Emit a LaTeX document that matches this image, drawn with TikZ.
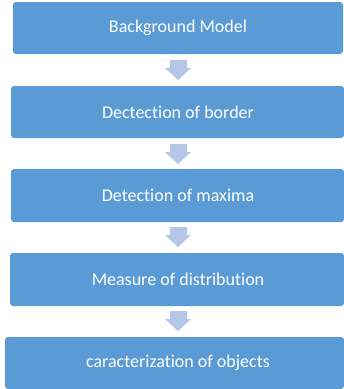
\documentclass[tikz,border=0pt]{standalone}
\usepackage{fontspec}
\setmainfont{Carlito}[Ligatures={NoCommon,NoRare,NoContextual}]
\definecolor{stepblue}{HTML}{5B9BD5}
\definecolor{arrowblue}{HTML}{B4C7E7}
\begin{document}
\begin{tikzpicture}[x=1pt,y=-1pt,
  stepbox/.style={fill=stepblue, draw=none, rounded corners=3pt},
  steplabel/.style={text=white, inner sep=0pt, font=\fontsize{18}{21}\selectfont},
  flowarrow/.style={fill=arrowblue, draw=none}]
\useasboundingbox (0,0) rectangle (344,389);
% process boxes
\path[stepbox] (13,2) rectangle (343,54);
\node[steplabel] (b1) at (178,28) {Background Model};
\path[stepbox] (11,86) rectangle (344,138);
\node[steplabel] (b2) at (178,112) {Dectection of border};
\path[stepbox] (11,169) rectangle (344,222);
\node[steplabel] (b3) at (178,195.5) {Detection of maxima};
\path[stepbox] (10,253) rectangle (344,306);
\node[steplabel] (b4) at (178,279.5) {Measure of distribution};
\path[stepbox] (5,337) rectangle (344,389);
\node[steplabel] (b5) at (178,363) {caracterization of objects};
% block arrows between the boxes
\foreach \t in {60,144,227,311}{
  \path[flowarrow] (170,\t) -- (187,\t) -- (187,\t+8) -- (191,\t+8) -- (178,\t+20)
    -- (165,\t+8) -- (170,\t+8) -- cycle;
}
\end{tikzpicture}
\end{document}
